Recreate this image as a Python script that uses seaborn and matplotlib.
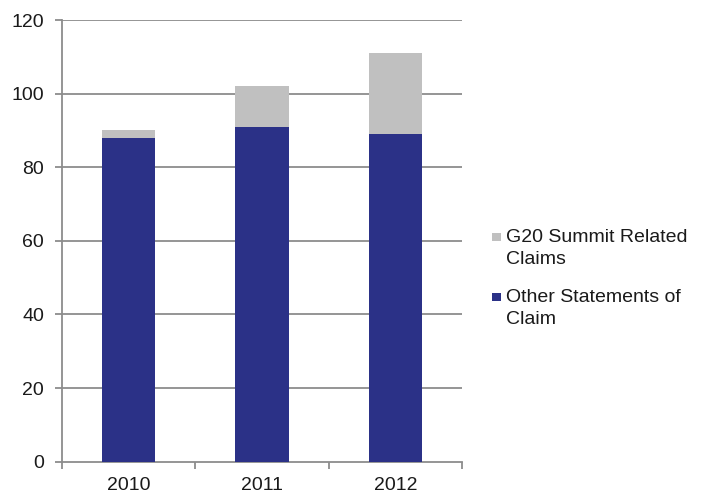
import matplotlib
matplotlib.use("Agg")
import matplotlib.pyplot as plt
from matplotlib.patches import Patch, Rectangle
from matplotlib.legend_handler import HandlerPatch
import seaborn as sns
import pandas as pd

# Statements of claim by year
years = ["2010", "2011", "2012"]
other_claims = [88, 91, 89]
g20_claims = [2, 11, 22]
y_ticks = [0, 20, 40, 60, 80, 100, 120]

BLUE = "#2b3187"
GREY = "#c0c0c0"
AXIS = "#8c8c8c"
FS = 14

sns.set_theme(style="white")
plt.rcParams["font.family"] = ["Liberation Sans", "DejaVu Sans"]

df = pd.DataFrame({"year": years, "other": other_claims, "g20": g20_claims})

fig = plt.figure(figsize=(7.01, 4.94), dpi=100)
ax = fig.add_axes([0.0884, 0.0654, 0.5706, 0.8941])

# stacked bars: other claims at the base, G20 claims on top
sns.barplot(data=df, x="year", y="other", color=BLUE, width=0.4,
            saturation=1, linewidth=0, ax=ax, zorder=3)
sns.barplot(data=df, x="year", y="g20", bottom=df["other"], color=GREY,
            width=0.4, saturation=1, linewidth=0, ax=ax, zorder=3)

ax.set_xlim(-0.5, 2.5)
ax.set_ylim(0, 120)
ax.set_yticks(y_ticks)
ax.set_xlabel("")
ax.set_ylabel("")

# horizontal gridlines
for v in y_ticks[1:]:
    ax.axhline(v, color=AXIS, lw=1.3, zorder=1)

for side in ["top", "right"]:
    ax.spines[side].set_visible(False)
for side in ["left", "bottom"]:
    ax.spines[side].set_color(AXIS)
    ax.spines[side].set_linewidth(1.3)

# tick marks between categories on the x axis
ax.set_xticks([-0.5, 0.5, 1.5, 2.5], minor=True)
ax.tick_params(axis="x", which="minor", length=5, width=1.3, color=AXIS,
               direction="out", bottom=True)
ax.tick_params(axis="x", which="major", length=0, pad=11, labelsize=FS,
               labelcolor="#1a1a1a")
ax.tick_params(axis="y", which="major", length=5, width=1.3, color=AXIS,
               direction="out", left=True, pad=8, labelsize=FS,
               labelcolor="#1a1a1a")


def top_line_square(legend, orig_handle, xdescent, ydescent, width, height,
                    fontsize):
    # square marker lined up with the first line of a two-line label
    side = 0.42 * fontsize
    return Rectangle((-xdescent, -ydescent + 0.72 * fontsize), side, side)


handles = [Patch(facecolor=GREY, edgecolor="none"),
           Patch(facecolor=BLUE, edgecolor="none")]
labels = ["G20 Summit Related\nClaims", "Other Statements of\nClaim"]
leg = fig.legend(handles, labels, loc="center left",
                 bbox_to_anchor=(0.6914, 0.436), frameon=False, fontsize=FS,
                 handlelength=0.42, handleheight=0.7, handletextpad=0.3,
                 labelspacing=1.05, borderaxespad=0,
                 handler_map={Patch: HandlerPatch(patch_func=top_line_square)})
for t in leg.get_texts():
    t.set_linespacing(1.4)
    t.set_color("#1a1a1a")

fig.savefig("out.png", dpi=100)
